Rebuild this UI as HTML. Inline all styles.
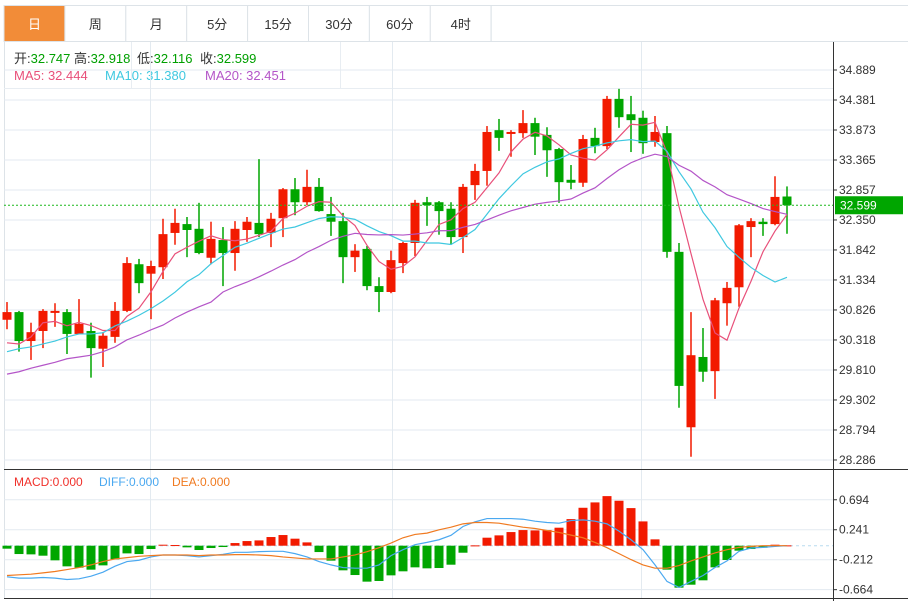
<!DOCTYPE html>
<html><head><meta charset="utf-8">
<style>
body{margin:0;background:#fff;width:908px;height:601px;overflow:hidden;font-family:"Liberation Sans","Noto Sans CJK SC",sans-serif;}
svg{display:block}
</style></head>
<body>
<svg id="chart" width="908" height="601" viewBox="0 0 908 601" xmlns="http://www.w3.org/2000/svg" font-family="Liberation Sans, Noto Sans CJK SC, sans-serif">
  <g id="tabs"></g>
  <g id="legend">
    <text x="14" y="63" font-size="13" fill="#333">开:<tspan fill="#00a000">32.747</tspan></text>
    <text x="74" y="63" font-size="13" fill="#333">高:<tspan fill="#00a000">32.918</tspan></text>
    <text x="137" y="63" font-size="13" fill="#333">低:<tspan fill="#00a000">32.116</tspan></text>
    <text x="200" y="63" font-size="13" fill="#333">收:<tspan fill="#00a000">32.599</tspan></text>
    <text x="14" y="80" font-size="13" fill="#e8507a">MA5: 32.444</text>
    <text x="105" y="80" font-size="13" fill="#3fc8e0">MA10: 31.380</text>
    <text x="205" y="80" font-size="13" fill="#b455c8">MA20: 32.451</text>
  </g>
  <g id="grid"></g>
  <g id="marks"></g>
  <g id="macd">
    <text x="14" y="486" font-size="12" fill="#f0302a">MACD:0.000</text>
    <text x="99" y="486" font-size="12" fill="#4aa8f0">DIFF:0.000</text>
    <text x="172" y="486" font-size="12" fill="#f07a20">DEA:0.000</text>
  </g>
  <g id="axes"></g>
</svg>
<script>
const opens  = [30.66,30.79,30.30,30.47,30.78,30.79,30.42,30.47,30.17,30.37,30.81,31.60,31.44,31.55,32.13,32.28,32.20,31.71,32.01,31.79,32.18,32.30,32.13,32.38,32.87,32.65,32.91,32.45,32.33,31.72,31.86,31.23,31.13,31.62,31.96,32.65,32.65,32.54,32.06,32.94,33.18,33.87,33.81,33.82,33.99,33.79,33.55,33.03,32.98,33.74,33.60,34.40,34.14,34.08,33.67,33.82,31.81,28.84,30.03,29.79,30.94,31.21,32.23,32.32,32.28,32.747];
const highs  = [30.96,30.81,30.61,30.84,30.94,30.84,31.01,30.61,30.45,30.96,31.72,31.69,31.66,32.37,32.54,32.40,32.64,32.32,32.23,32.33,32.40,33.38,32.47,32.89,33.06,33.20,33.06,32.74,32.47,31.94,31.91,31.38,31.83,31.98,32.69,32.74,32.67,32.65,32.96,33.30,33.94,34.06,33.87,34.21,34.08,33.92,33.57,33.28,33.79,33.91,34.45,34.57,34.45,34.20,34.11,33.94,31.96,30.79,30.52,31.03,31.30,32.28,32.38,32.38,33.09,32.918];
const lows   = [30.50,30.12,29.98,30.18,30.54,30.08,30.42,29.68,29.86,30.27,30.79,31.11,30.67,31.35,31.93,31.72,31.77,31.60,31.23,31.49,31.98,32.06,31.89,32.06,32.43,32.60,32.49,32.08,31.28,31.47,31.16,30.79,31.11,31.45,31.74,32.25,32.10,31.93,31.79,32.69,32.93,33.52,33.42,33.74,33.45,33.08,32.64,32.87,32.91,33.48,33.55,33.91,33.50,33.47,33.59,31.71,29.17,28.34,29.61,29.32,30.56,30.88,31.72,32.08,32.26,32.116];
const closes = [30.79,30.30,30.45,30.81,30.81,30.42,30.59,30.18,30.39,30.81,31.62,31.28,31.57,32.11,32.30,32.18,31.79,32.03,31.79,32.20,32.32,32.11,32.37,32.87,32.65,32.91,32.50,32.32,31.72,31.83,31.23,31.13,31.67,31.96,32.64,32.60,32.50,32.06,32.91,33.18,33.84,33.74,33.84,33.99,33.76,33.53,32.99,32.98,33.72,33.60,34.40,34.09,34.04,33.65,33.84,31.81,29.54,30.06,29.78,30.99,31.20,32.26,32.33,32.28,32.74,32.599];
const ma5Prefix  = [30.27,30.25,30.37,30.61];
const ma10Prefix = [30.12,30.17,30.20,30.25,30.30,30.37,30.42,30.42,30.44];
const ma20Prefix = [29.74,29.78,29.84,29.89,29.94,30.00,30.03,30.06,30.12,30.20,30.32,30.40,30.49,30.57,30.69,30.79,30.88,30.96,31.13];
const macdHist = [-0.045,-0.126,-0.131,-0.151,-0.221,-0.312,-0.332,-0.362,-0.297,-0.206,-0.116,-0.126,-0.050,0.015,0.010,-0.025,-0.065,-0.035,-0.020,0.040,0.070,0.080,0.131,0.161,0.106,0.050,-0.096,-0.226,-0.372,-0.443,-0.543,-0.533,-0.448,-0.387,-0.327,-0.342,-0.337,-0.287,-0.106,0.005,0.121,0.156,0.206,0.236,0.231,0.236,0.272,0.402,0.573,0.654,0.749,0.679,0.568,0.367,0.096,-0.362,-0.634,-0.589,-0.523,-0.327,-0.216,-0.075,-0.050,-0.030,0.015,0.005];
const diffVals = [-0.47,-0.49,-0.49,-0.48,-0.49,-0.51,-0.50,-0.46,-0.40,-0.31,-0.24,-0.22,-0.17,-0.14,-0.14,-0.15,-0.17,-0.15,-0.13,-0.10,-0.10,-0.09,-0.085,-0.085,-0.12,-0.17,-0.24,-0.29,-0.33,-0.34,-0.34,-0.29,-0.15,-0.06,0.015,0.05,0.09,0.156,0.29,0.36,0.41,0.41,0.41,0.40,0.37,0.35,0.34,0.38,0.39,0.37,0.33,0.22,0.09,-0.06,-0.29,-0.54,-0.63,-0.54,-0.45,-0.33,-0.23,-0.085,-0.035,-0.025,-0.01,0];
const deaVals = [-0.45,-0.44,-0.43,-0.41,-0.39,-0.36,-0.33,-0.29,-0.24,-0.20,-0.18,-0.16,-0.15,-0.14,-0.14,-0.14,-0.15,-0.14,-0.14,-0.135,-0.135,-0.14,-0.15,-0.17,-0.185,-0.20,-0.20,-0.20,-0.17,-0.14,-0.09,-0.03,0.04,0.12,0.17,0.19,0.24,0.28,0.33,0.35,0.35,0.34,0.31,0.28,0.26,0.23,0.20,0.16,0.12,0.05,-0.03,-0.12,-0.21,-0.29,-0.34,-0.34,-0.30,-0.23,-0.17,-0.11,-0.06,-0.025,-0.01,0,0,0];
const priceTicks = [34.889,34.381,33.873,33.365,32.857,32.350,31.842,31.334,30.826,30.318,29.810,29.302,28.794,28.286];
const macdTicks = [0.694,0.241,-0.212,-0.664];
const tabLabels = ["日","周","月","5分","15分","30分","60分","4时"];
const lastPrice = 32.599;

const NS="http://www.w3.org/2000/svg";
function mk(parent,tag,attrs){const e=document.createElementNS(NS,tag);for(const k in attrs)e.setAttribute(k,attrs[k]);parent.appendChild(e);return e;}
const xAt = i => 7 + i*12;
const yP = v => 70 + (34.889 - v) * 59.06;
const yM = v => 545.7 - v * 66.2;

const tabs=document.getElementById('tabs');
mk(tabs,'line',{x1:4,y1:5.5,x2:908,y2:5.5,stroke:'#dde3e8'});
mk(tabs,'line',{x1:4,y1:41.5,x2:908,y2:41.5,stroke:'#dde3e8'});
tabLabels.forEach((t,i)=>{
  const x0=4+i*60.9;
  const g=mk(tabs,'g',{});
  
  
  mk(g,'rect',{x:x0,y:5.5,width:60.9,height:36,fill:i===0?'#f28c38':'#fff',stroke:'#dde3e8'});
  const tx=mk(g,'text',{x:x0+30.5,y:29,'font-size':13,'text-anchor':'middle',fill:i===0?'#fff':'#333'});
  tx.textContent=t;
});
mk(tabs,'line',{x1:491,y1:5.5,x2:491,y2:41.5,stroke:'#dde3e8'});

const grid=document.getElementById('grid');
mk(grid,'line',{x1:4.5,y1:42,x2:4.5,y2:598,stroke:'#dde3e8'});
mk(grid,'line',{x1:4,y1:88.5,x2:833,y2:88.5,stroke:'#e8edf2'});
mk(grid,'line',{x1:131.5,y1:42,x2:131.5,y2:88,stroke:'#e8edf2'});
mk(grid,'line',{x1:340.5,y1:42,x2:340.5,y2:88,stroke:'#e8edf2'});
priceTicks.forEach(v=>mk(grid,'line',{x1:4,y1:yP(v),x2:833,y2:yP(v),stroke:'#e3eaf0'}));
macdTicks.forEach(v=>mk(grid,'line',{x1:4,y1:yM(v),x2:833,y2:yM(v),stroke:'#e3eaf0'}));
[150.5,392.5,641.5].forEach(x=>{mk(grid,'line',{x1:x,y1:42,x2:x,y2:469,stroke:'#e3eaf0'});mk(grid,'line',{x1:x,y1:470,x2:x,y2:598,stroke:'#e3eaf0'});});

const marks=document.getElementById('marks');
closes.forEach((c,i)=>{
  const up=c>=opens[i];const col=up?'#f21a00':'#00a600';
  const g=mk(marks,'g',{});
  
  
  mk(g,'line',{x1:xAt(i),y1:yP(highs[i]),x2:xAt(i),y2:yP(lows[i]),stroke:col,'stroke-width':1.5});
  const t=Math.min(yP(opens[i]),yP(c)),b=Math.max(yP(opens[i]),yP(c));
  mk(g,'rect',{x:xAt(i)-4.5,y:t,width:9,height:Math.max(2,b-t),fill:col});
});
function ma(n,prefix){const out=[];for(let i=0;i<closes.length;i++){if(i<n-1)out.push(prefix[i]);else{let s=0;for(let k=i-n+1;k<=i;k++)s+=closes[k];out.push(s/n);}}return out;}
[[5,ma5Prefix,'#e8507a','ma5-line'],[10,ma10Prefix,'#3fc8e0','ma10-line'],[20,ma20Prefix,'#b455c8','ma20-line']].forEach(([n,p,col,name])=>{
  const vals=ma(n,p);
  const pl=mk(marks,'polyline',{points:vals.map((v,i)=>xAt(i)+','+yP(v)).join(' '),fill:'none',stroke:col,'stroke-width':1.2});
  
  
});
const pline=mk(marks,'line',{x1:4,y1:yP(lastPrice),x2:833,y2:yP(lastPrice),stroke:'#1db81d','stroke-dasharray':'2,2'});



const macd=document.getElementById('macd');
mk(macd,'line',{x1:4,y1:yM(0),x2:833,y2:yM(0),stroke:'#b8dcef','stroke-dasharray':'3,3'});
macdHist.forEach((v,i)=>{
  const r=mk(macd,'rect',{x:xAt(i)-4.5,y:Math.min(yM(0),yM(v)),width:9,height:Math.max(1,Math.abs(yM(v)-yM(0))),fill:v>=0?'#f21a00':'#00a600'});
  
  
});
const dl=mk(macd,'polyline',{points:diffVals.map((v,i)=>xAt(i)+','+yM(v)).join(' '),fill:'none',stroke:'#4aa8f0','stroke-width':1.2});


const el2=mk(macd,'polyline',{points:deaVals.map((v,i)=>xAt(i)+','+yM(v)).join(' '),fill:'none',stroke:'#f07a20','stroke-width':1.2});



const axes=document.getElementById('axes');
mk(axes,'line',{x1:833.5,y1:42,x2:833.5,y2:601,stroke:'#333'});
mk(axes,'line',{x1:4,y1:469.5,x2:908,y2:469.5,stroke:'#333'});
mk(axes,'line',{x1:4,y1:598.5,x2:908,y2:598.5,stroke:'#333'});
priceTicks.forEach(v=>{
  mk(axes,'line',{x1:833,y1:yP(v),x2:837,y2:yP(v),stroke:'#333'});
  const t=mk(axes,'text',{x:839,y:yP(v)+4,'font-size':12,fill:'#333'});t.textContent=v.toFixed(3);
  
  
});
macdTicks.forEach(v=>{
  mk(axes,'line',{x1:833,y1:yM(v),x2:837,y2:yM(v),stroke:'#333'});
  const t=mk(axes,'text',{x:839,y:yM(v)+4,'font-size':12,fill:'#333'});t.textContent=(v<0?'-':'')+Math.abs(v).toFixed(3);
  
  
});
const tag=mk(axes,'g',{});


mk(tag,'rect',{x:835,y:yP(lastPrice)-9,width:68,height:18,fill:'#00a600'});
const tt=mk(tag,'text',{x:840,y:yP(lastPrice)+4.5,'font-size':12,fill:'#fff'});tt.textContent=lastPrice.toFixed(3);
</script>
</body></html>
